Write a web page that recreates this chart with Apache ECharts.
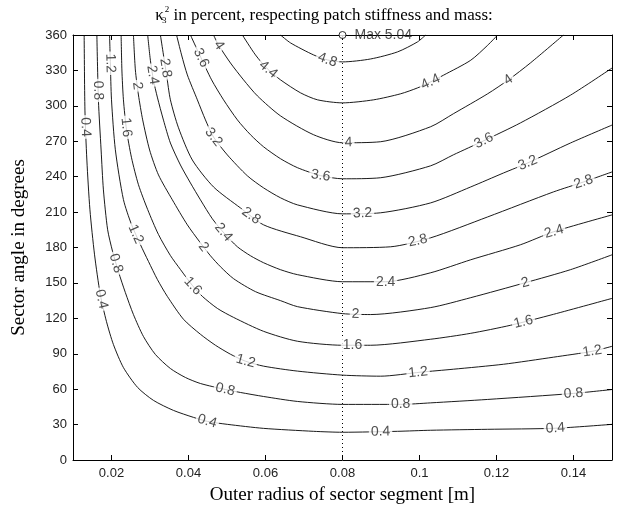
<!DOCTYPE html>
<html><head><meta charset="utf-8">
<script src="https://cdn.jsdelivr.net/npm/echarts@6/dist/echarts.min.js"></script>
<style>html,body{margin:0;padding:0;background:#fff}#c{width:623px;height:510px}</style>
</head><body><div id="c"></div>
<script>
// ---- data (x = outer radius [m], y = sector angle [deg]) ----
const levels = [0.4, 0.8, 1.2, 1.6, 2.0, 2.4, 2.8, 3.2, 3.6, 4.0, 4.4, 4.8];
const xTicks = [0.02, 0.04, 0.06, 0.08, 0.1, 0.12, 0.14];
const maxPoint = [0.08, 360];
const maxValue = 5.04;

const c04 = [[0.0129,360],[0.0131,296.4],[0.0136,254.1],[0.0144,211.9],[0.0156,173.8],[0.0171,140.0],[0.0187,117.2],[0.0205,97.8],[0.0231,78.3],[0.0268,61.4],[0.0309,50.5],[0.0361,42.0],[0.0413,36.1],[0.0449,32.7],[0.0501,30.2],[0.0595,26.8],[0.0725,24.3],[0.0800,23.5],[0.0943,24.3],[0.1029,25.2],[0.1177,26.0],[0.1353,26.9],[0.1500,30.2]];
const c08 = [[0.0162,360],[0.0166,304.9],[0.0173,262.6],[0.0179,228.8],[0.0190,195.0],[0.0203,176.4],[0.0218,159.5],[0.0236,141.8],[0.0257,123.2],[0.0283,104.6],[0.0314,89.4],[0.0353,77.5],[0.0392,69.9],[0.0431,64.8],[0.0496,59.7],[0.0535,57.2],[0.0595,53.8],[0.0683,49.6],[0.0800,47.1],[0.0951,47.1],[0.1029,48.4],[0.1177,51.3],[0.1400,56.4],[0.1500,59.7]];
const c12 = [[0.0195,360],[0.0197,336.4],[0.0200,305.1],[0.0210,262.8],[0.0231,220.6],[0.0252,199.4],[0.0275,182.5],[0.0296,168.2],[0.0319,153.0],[0.0345,138.6],[0.0387,119.2],[0.0431,106.5],[0.0470,97.2],[0.0509,89.6],[0.0548,83.7],[0.0595,79.5],[0.0683,75.3],[0.0800,71.9],[0.0899,71.0],[0.1003,74.4],[0.1088,76.9],[0.1218,81.1],[0.1348,87.1],[0.1449,92.1],[0.1500,96.3]];
const c16 = [[0.0225,360],[0.0227,330.4],[0.0231,305.1],[0.0239,279.7],[0.0252,256.0],[0.0270,233.2],[0.0294,212.1],[0.0322,191.0],[0.0353,173.2],[0.0379,161.4],[0.0410,147.9],[0.0436,138.6],[0.0475,128.4],[0.0517,120.8],[0.0595,109.0],[0.0683,100.6],[0.0800,97.2],[0.0873,97.2],[0.1029,102.3],[0.1133,107.3],[0.1236,114.1],[0.1348,123.4],[0.1500,136.9]];
const c20 = [[0.0257,360],[0.0262,330.4],[0.0270,309.2],[0.0281,288.1],[0.0299,262.6],[0.0322,241.5],[0.0358,220.4],[0.0397,199.2],[0.0429,184.8],[0.0457,173.0],[0.0483,163.7],[0.0517,153.6],[0.0574,142.6],[0.0639,135.0],[0.0683,129.9],[0.0800,124.0],[0.0873,123.2],[0.1029,129.1],[0.1133,137.5],[0.1275,150.2],[0.1392,161.2],[0.1500,173.8]];
const c24 = [[0.0294,360],[0.0301,338.6],[0.0309,321.7],[0.0319,307.4],[0.0335,287.9],[0.0353,268.5],[0.0379,249.9],[0.0405,234.7],[0.0431,220.4],[0.0462,204.3],[0.0494,191.6],[0.0527,180.6],[0.0561,173.0],[0.0595,167.1],[0.0639,161.2],[0.0683,157.0],[0.0800,151.0],[0.0912,151.0],[0.1029,158.6],[0.1133,169.6],[0.1262,182.3],[0.1348,193.3],[0.1500,207.6]];
const c28 = [[0.0327,360],[0.0335,343.1],[0.0343,326.2],[0.0353,305.1],[0.0374,281.4],[0.0410,254.1],[0.0465,231.3],[0.0535,213.5],[0.0595,199.2],[0.0691,189.1],[0.0800,179.8],[0.0925,180.6],[0.1029,188.2],[0.1177,205.9],[0.1348,227.1],[0.1426,235.5],[0.1500,244.0]];
const c32 = [[0.0369,360],[0.0382,343.1],[0.0397,326.2],[0.0423,305.1],[0.0444,288.1],[0.0465,273.6],[0.0501,258.4],[0.0553,240.7],[0.0595,230.5],[0.0639,222.1],[0.0683,216.1],[0.0800,208.5],[0.0899,209.4],[0.1029,217.8],[0.1133,231.3],[0.1218,243.1],[0.1281,251.6],[0.1392,268.5],[0.1500,283.7]];
const c36 = [[0.0405,360],[0.0429,343.1],[0.0460,322.0],[0.0491,305.1],[0.0527,288.1],[0.0561,275.5],[0.0595,265.3],[0.0639,255.2],[0.0683,247.6],[0.0743,240.9],[0.0800,238.2],[0.0899,239.1],[0.1029,249.2],[0.1088,258.5],[0.1166,270.3],[0.1262,285.5],[0.1392,309.0],[0.1500,332.0]];
const c40 = [[0.0465,360],[0.0478,351.5],[0.0509,336.3],[0.0543,322.0],[0.0579,308.4],[0.0639,291.5],[0.0725,275.5],[0.0800,268.7],[0.0899,269.6],[0.1029,282.3],[0.1088,293.3],[0.1177,310.2],[0.1231,322.0],[0.1288,336.3],[0.1374,360]];
const c44 = [[0.0540,360],[0.0574,343.1],[0.0605,331.3],[0.0639,322.0],[0.0691,311.0],[0.0735,305.1],[0.0800,302.5],[0.0881,305.1],[0.0951,310.2],[0.0995,315.2],[0.1029,320.3],[0.1062,325.9],[0.1133,338.6],[0.1177,351.3],[0.1203,360]];
const c48 = [[0.0639,360],[0.0665,353.3],[0.0725,343.1],[0.0761,338.9],[0.0800,337.2],[0.0873,339.7],[0.0943,345.7],[0.0995,354.2],[0.1016,360]];

// where the in-line contour labels sit (snapped onto their line)
const lab04 = [[0.0132,282],[0.0171,136],[0.0449,33],[0.0899,23.6],[0.1353,27]];
const lab08 = [[0.0164,313],[0.0216,167],[0.0496,60.6],[0.0951,47.1],[0.1400,56.4]];
const lab12 = [[0.0195,336],[0.0268,192],[0.0548,83.4],[0.0997,72.4],[0.1449,91]];
const lab16 = [[0.0244,282],[0.0410,147],[0.0826,97],[0.1270,117]];
const lab20 = [[0.0268,317],[0.0429,178],[0.0834,123],[0.1275,150]];
const lab24 = [[0.0306,326],[0.0488,192],[0.0912,151],[0.1348,195]];
const lab28 = [[0.0340,332],[0.0561,206],[0.0997,184],[0.1426,235.5]];
const lab32 = [[0.0465,273.5],[0.0852,208.5],[0.1281,251.6]];
const lab36 = [[0.0429,340],[0.0743,240],[0.1166,271]];
const lab40 = [[0.0478,351],[0.0816,268.5],[0.1231,322]];
const lab44 = [[0.0605,330],[0.1029,320]];
const lab48 = [[0.0761,339]];

const contours = [c04,c08,c12,c16,c20,c24,c28,c32,c36,c40,c44,c48];
const labelSpots = [lab04,lab08,lab12,lab16,lab20,lab24,lab28,lab32,lab36,lab40,lab44,lab48];

// ---- chart ----
const chart = echarts.init(document.getElementById('c'), null, {renderer: 'canvas'});
const SANS = 'Liberation Sans, Arial, sans-serif';
const SERIF = 'Liberation Serif, Times New Roman, serif';

const axisCommon = {
  axisLine: {show: true, onZero: false, lineStyle: {color: '#000', width: 1}},
  axisTick: {show: true, inside: true, length: 5, lineStyle: {color: '#000', width: 1}},
  splitLine: {show: false}
};

function baseOption(extraSeries) {
  const lineSeries = contours.map((c, i) => ({
    type: 'line', name: 'c' + levels[i], data: c, symbol: 'none', smooth: 0.25,
    lineStyle: {color: '#000', width: 0.9}, z: 2, silent: true, animation: false, clip: true
  }));
  lineSeries.push({
    type: 'line', data: [[maxPoint[0], 0], [maxPoint[0], maxPoint[1]]], symbol: 'none',
    lineStyle: {color: '#000', width: 1, type: [1, 3]}, z: 1, animation: false
  });
  lineSeries.push({
    type: 'scatter', data: [maxPoint], symbol: 'circle', symbolSize: 7, clip: false,
    itemStyle: {color: '#fff', borderColor: '#000', borderWidth: 1}, z: 5, animation: false,
    label: {show: true, position: 'right', distance: 8, formatter: 'Max ' + maxValue,
      fontFamily: SANS, fontSize: 14, color: '#222'}
  });
  return {
    animation: false,
    backgroundColor: '#fff',
    grid: {left: 73, right: 11, top: 35, bottom: 49, containLabel: false},
    graphic: [{
      type: 'text', x: 324, y: 4, z: 10,
      style: {
        text: '{k|κ}{sb|3}{sp|2}{t| in percent, respecting patch stiffness and mass:}',
        textAlign: 'center', fill: '#000',
        rich: {
          k: {fontFamily: SERIF, fontSize: 17, lineHeight: 24, verticalAlign: 'middle'},
          sb: {fontFamily: SERIF, fontSize: 9, verticalAlign: 'bottom', lineHeight: 24, width: 1, padding: [0,0,3,0]},
          sp: {fontFamily: SERIF, fontSize: 9, verticalAlign: 'top', lineHeight: 24, padding: [1,0,0,0]},
          t: {fontFamily: SERIF, fontSize: 17, lineHeight: 24, verticalAlign: 'middle'}
        }
      }
    }],
    xAxis: [
      Object.assign({}, axisCommon, {
        type: 'value', min: 0.01, max: 0.15, position: 'bottom',
        axisTick: Object.assign({}, axisCommon.axisTick, {customValues: xTicks}),
        axisLabel: {customValues: xTicks, fontFamily: SANS, fontSize: 13, color: '#222', margin: 7},
        name: 'Outer radius of sector segment [m]', nameLocation: 'middle', nameGap: 26,
        nameTextStyle: {fontFamily: SERIF, fontSize: 19, color: '#000'}
      }),
      Object.assign({}, axisCommon, {
        type: 'value', min: 0.01, max: 0.15, position: 'top',
        axisTick: Object.assign({}, axisCommon.axisTick, {customValues: xTicks}),
        axisLabel: {show: false}
      })
    ],
    yAxis: [
      Object.assign({}, axisCommon, {
        type: 'value', min: 0, max: 360, interval: 30, position: 'left',
        axisLabel: {fontFamily: SANS, fontSize: 13, color: '#222', margin: 6},
        name: 'Sector angle in degrees', nameLocation: 'middle', nameGap: 44, nameRotate: 90,
        nameTextStyle: {fontFamily: SERIF, fontSize: 19, color: '#000'}
      }),
      Object.assign({}, axisCommon, {
        type: 'value', min: 0, max: 360, interval: 30, position: 'right',
        axisLabel: {show: false}
      })
    ],
    series: lineSeries.concat(extraSeries || [])
  };
}

chart.setOption(baseOption());

// place labels on their lines, rotated along the local direction
function snapLabel(poly, spot) {
  const pts = poly.map(p => chart.convertToPixel({gridIndex: 0}, p));
  const s = chart.convertToPixel({gridIndex: 0}, spot);
  let best = null;
  for (let i = 0; i < pts.length - 1; i++) {
    const a = pts[i], b = pts[i + 1];
    const dx = b[0] - a[0], dy = b[1] - a[1];
    const L2 = dx * dx + dy * dy;
    let t = L2 ? ((s[0] - a[0]) * dx + (s[1] - a[1]) * dy) / L2 : 0;
    t = Math.max(0, Math.min(1, t));
    const px = a[0] + t * dx, py = a[1] + t * dy;
    const d = (px - s[0]) ** 2 + (py - s[1]) ** 2;
    if (!best || d < best.d) best = {d, px, py, dx, dy};
  }
  let ang = Math.atan2(-best.dy, best.dx) * 180 / Math.PI;
  if (ang > 90) ang -= 180;
  if (ang < -90) ang += 180;
  return {value: chart.convertFromPixel({gridIndex: 0}, [best.px, best.py]), rotate: ang};
}

const labelData = [];
labelSpots.forEach((spots, i) => {
  spots.forEach(sp => {
    const r = snapLabel(contours[i], sp);
    labelData.push({
      value: r.value,
      label: {rotate: r.rotate, formatter: String(levels[i])}
    });
  });
});

const labelSeries = {
  type: 'scatter', data: labelData, symbolSize: 0, z: 4, silent: true, animation: false,
  label: {
    show: true, position: 'inside', fontFamily: SANS, fontSize: 14, color: '#222',
    backgroundColor: '#fff', padding: [0, 2]
  },
  labelLayout: {hideOverlap: false}
};

chart.setOption(baseOption([labelSeries]), true);
</script>
</body></html>
